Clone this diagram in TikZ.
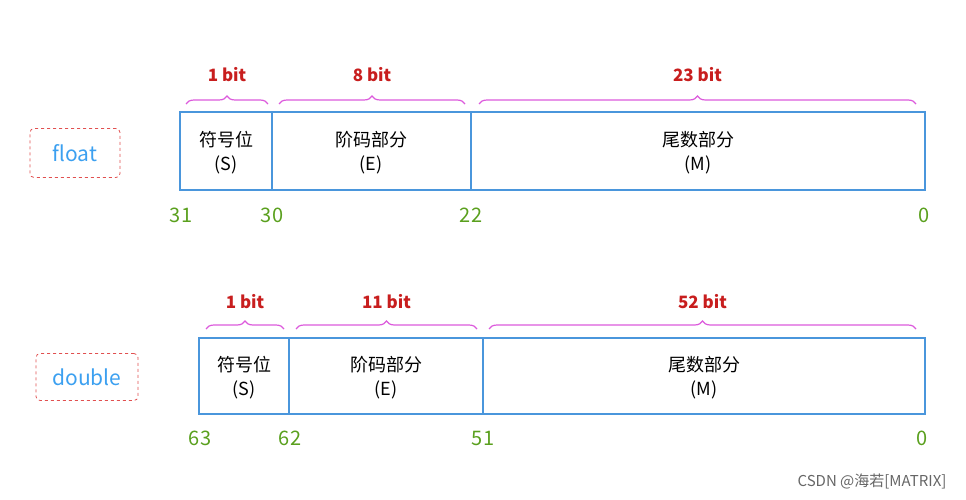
\documentclass[tikz,border=0pt]{standalone}
\usepackage{fontspec}
\setmainfont{Noto Sans CJK SC}
\usetikzlibrary{decorations.pathreplacing}
\definecolor{boxblue}{RGB}{74,150,220}
\definecolor{lblblue}{RGB}{60,160,240}
\definecolor{bitred}{RGB}{200,30,30}
\definecolor{brmag}{RGB}{220,90,220}
\definecolor{numgreen}{RGB}{90,160,30}
\definecolor{dashred}{RGB}{225,80,80}
\tikzset{
  fbox/.style={draw=boxblue,line width=1.5pt},
  ftext/.style={align=center,font=\fontsize{18}{24}\selectfont},
  typelbl/.style={draw=dashred,dashed,line width=0.8pt,rounded corners=4pt,text=lblblue,font=\fontsize{21}{24}\selectfont,inner sep=0pt},
  brc/.style={draw=brmag,line width=1.2pt,decorate,decoration={brace,amplitude=8pt}},
  bitlbl/.style={text=bitred,font=\fontsize{17}{19}\selectfont\bfseries},
  num/.style={text=numgreen,font=\fontsize{20}{22}\selectfont}
}
\begin{document}
\begin{tikzpicture}[x=1pt,y=-1pt]
\useasboundingbox (0,0) rectangle (966,500);
% float
\node[typelbl,minimum width=90,minimum height=49] (fl) at (75,153) {float};
\draw[fbox] (180,112) rectangle (925,190);
\draw[fbox] (272,112) -- (272,190);
\draw[fbox] (471,112) -- (471,190);
\node[ftext] (fs) at (226,153) {符号位\\(S)};
\node[ftext] (fe) at (371,153) {阶码部分\\(E)};
\node[ftext] (fm) at (698,153) {尾数部分\\(M)};
\draw[brc] (186,104) -- (268,104) node[midway,above=18pt,bitlbl] (b1) {1 bit};
\draw[brc] (279,104) -- (465,104) node[midway,above=18pt,bitlbl] (b2) {8 bit};
\draw[brc] (479,104) -- (916,104) node[midway,above=18pt,bitlbl] (b3) {23 bit};
\node[num] (n31) at (181,215) {31};
\node[num] (n30) at (272,215) {30};
\node[num] (n22) at (471,215) {22};
\node[num] (n0a) at (924,215) {0};
% double
\node[typelbl,minimum width=102,minimum height=47] (db) at (87,377) {double};
\draw[fbox] (199,338) rectangle (925,414);
\draw[fbox] (289,338) -- (289,414);
\draw[fbox] (483,338) -- (483,414);
\node[ftext] (ds) at (244,378) {符号位\\(S)};
\node[ftext] (de) at (386,378) {阶码部分\\(E)};
\node[ftext] (dm) at (704,378) {尾数部分\\(M)};
\draw[brc] (206,329) -- (284,329) node[midway,above=16pt,bitlbl] (c1) {1 bit};
\draw[brc] (296,329) -- (477,329) node[midway,above=16pt,bitlbl] (c2) {11 bit};
\draw[brc] (489,329) -- (916,329) node[midway,above=16pt,bitlbl] (c3) {52 bit};
\node[num] (n63) at (200,438) {63};
\node[num] (n62) at (290,438) {62};
\node[num] (n51) at (483,438) {51};
\node[num] (n0b) at (922,438) {0};
\node[text=gray!80!black,font=\fontsize{15}{17}\selectfont] (wm) at (872,481) {CSDN @海若[MATRIX]};
\end{tikzpicture}
\end{document}
